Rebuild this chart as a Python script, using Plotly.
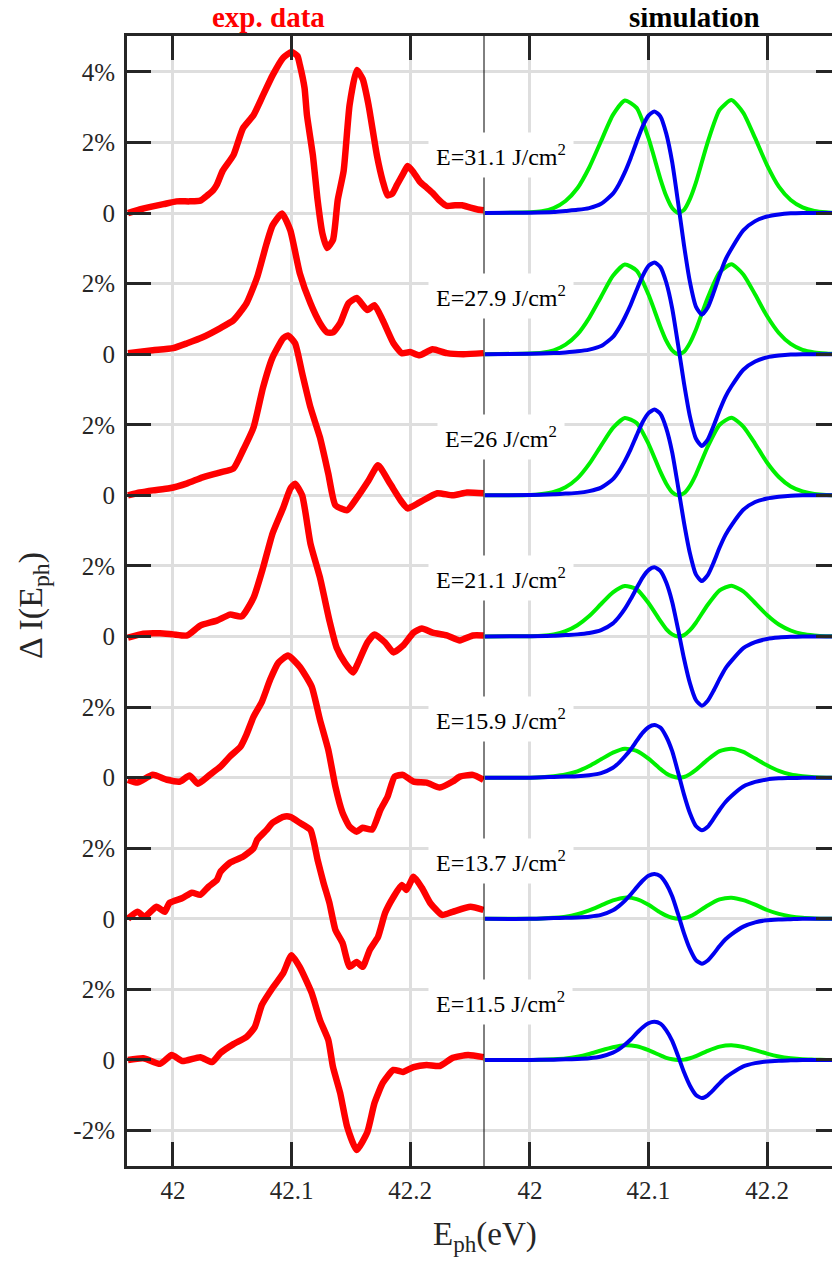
import plotly.graph_objects as go

# ---------------- data ----------------
FLUENCE = ["31.1", "27.9", "26", "21.1", "15.9", "13.7", "11.5"]

# experimental traces: (photon energy eV, dI %)
EXP_311 = [(41.962, 0.0), (41.972, 0.1), (41.982, 0.18), (41.992, 0.25), (42.003, 0.33), (42.014, 0.33),
           (42.023, 0.35), (42.029, 0.5), (42.034, 0.65), (42.037, 0.8), (42.042, 1.2), (42.051, 1.64),
           (42.059, 2.4), (42.068, 2.78), (42.076, 3.34), (42.084, 3.9), (42.093, 4.4), (42.100, 4.56),
           (42.105, 4.45), (42.107, 4.2), (42.111, 3.54), (42.113, 2.78), (42.118, 1.64), (42.122, 0.37),
           (42.126, -0.57), (42.130, -0.99), (42.135, -0.76), (42.139, 0.37), (42.144, 1.2), (42.149, 3.06),
           (42.155, 4.05), (42.160, 3.8), (42.165, 3.06), (42.172, 1.64), (42.177, 0.9), (42.181, 0.5),
           (42.185, 0.55), (42.189, 0.8), (42.194, 1.1), (42.198, 1.33), (42.203, 1.15), (42.208, 0.9),
           (42.214, 0.72), (42.219, 0.57), (42.225, 0.35), (42.231, 0.2), (42.238, 0.22), (42.244, 0.22),
           (42.251, 0.15), (42.257, 0.1), (42.262, 0.08)]
EXP_279 = [(41.962, 0.03), (41.983, 0.11), (42.000, 0.17), (42.012, 0.31), (42.025, 0.48), (42.040, 0.74),
           (42.051, 0.96), (42.062, 1.44), (42.071, 2.18), (42.079, 3.14), (42.084, 3.65), (42.092, 3.99),
           (42.099, 3.51), (42.107, 2.29), (42.116, 1.44), (42.124, 0.88), (42.130, 0.62), (42.135, 0.62),
           (42.141, 0.88), (42.148, 1.44), (42.155, 1.59), (42.164, 1.25), (42.170, 1.39), (42.177, 0.96),
           (42.186, 0.31), (42.193, 0.03), (42.200, 0.06), (42.208, -0.03), (42.219, 0.14), (42.231, 0.03),
           (42.245, 0.0), (42.262, 0.03)]
EXP_260 = [(41.962, 0.0), (41.972, 0.08), (41.983, 0.14), (41.997, 0.2), (42.012, 0.34), (42.025, 0.51),
           (42.040, 0.65), (42.051, 0.76), (42.059, 1.27), (42.068, 1.93), (42.076, 3.06), (42.084, 3.91),
           (42.093, 4.45), (42.097, 4.53), (42.103, 4.31), (42.109, 3.46), (42.116, 2.49), (42.124, 1.64),
           (42.131, 0.62), (42.137, -0.28), (42.147, -0.42), (42.155, -0.08), (42.165, 0.42), (42.173, 0.85),
           (42.183, 0.34), (42.192, -0.14), (42.198, -0.37), (42.208, -0.2), (42.223, 0.06), (42.236, 0.0),
           (42.248, 0.08), (42.262, 0.06)]
EXP_211 = [(41.962, -0.03), (41.975, 0.08), (41.989, 0.09), (42.000, 0.06), (42.012, 0.03), (42.023, 0.31),
           (42.037, 0.45), (42.048, 0.62), (42.058, 0.57), (42.068, 1.1), (42.076, 1.95), (42.084, 2.92),
           (42.093, 3.65), (42.099, 4.19), (42.103, 4.33), (42.109, 4.0), (42.116, 2.63), (42.124, 1.67),
           (42.132, 0.45), (42.138, -0.31), (42.145, -0.74), (42.152, -1.02), (42.156, -0.76), (42.164, -0.17),
           (42.170, 0.06), (42.179, -0.17), (42.186, -0.45), (42.194, -0.26), (42.203, 0.11), (42.210, 0.23),
           (42.219, 0.11), (42.231, 0.03), (42.242, -0.11), (42.253, 0.03), (42.262, 0.03)]
EXP_159 = [(41.962, -0.06), (41.970, -0.14), (41.983, 0.08), (41.995, -0.06), (42.006, -0.11), (42.014, 0.06),
           (42.021, -0.17), (42.031, 0.08), (42.040, 0.31), (42.048, 0.6), (42.057, 0.88), (42.062, 1.22),
           (42.068, 1.73), (42.075, 2.15), (42.082, 2.78), (42.089, 3.26), (42.097, 3.46), (42.107, 3.14),
           (42.117, 2.58), (42.124, 1.64), (42.131, 0.79), (42.137, -0.25), (42.143, -0.99), (42.149, -1.39),
           (42.155, -1.53), (42.160, -1.42), (42.168, -1.47), (42.175, -0.91), (42.181, -0.54), (42.187, 0.03),
           (42.194, 0.08), (42.203, -0.11), (42.214, -0.14), (42.225, -0.28), (42.236, -0.11), (42.242, 0.03),
           (42.253, 0.08), (42.262, -0.06)]
EXP_137 = [(41.962, 0.0), (41.970, 0.2), (41.976, 0.06), (41.986, 0.34), (41.993, 0.2), (41.997, 0.45),
           (42.008, 0.59), (42.016, 0.74), (42.023, 0.68), (42.030, 0.91), (42.037, 1.1), (42.040, 1.33),
           (42.048, 1.59), (42.059, 1.76), (42.068, 2.0), (42.071, 2.24), (42.079, 2.52), (42.084, 2.72),
           (42.093, 2.89), (42.099, 2.89), (42.107, 2.72), (42.116, 2.52), (42.122, 1.67), (42.127, 1.02),
           (42.132, 0.45), (42.137, -0.31), (42.143, -0.68), (42.149, -1.36), (42.155, -1.22), (42.160, -1.36),
           (42.166, -0.88), (42.173, -0.51), (42.179, 0.17), (42.186, 0.62), (42.193, 0.96), (42.197, 0.82),
           (42.203, 1.19), (42.210, 0.88), (42.217, 0.45), (42.227, 0.11), (42.236, 0.2), (42.251, 0.34),
           (42.262, 0.25)]
EXP_115 = [(41.962, 0.0), (41.975, 0.05), (41.989, -0.11), (41.999, 0.14), (42.008, -0.03), (42.023, 0.08),
           (42.033, -0.06), (42.040, 0.2), (42.051, 0.45), (42.062, 0.65), (42.069, 0.93), (42.075, 1.56),
           (42.084, 2.04), (42.093, 2.46), (42.100, 2.97), (42.107, 2.63), (42.117, 1.9), (42.124, 1.13),
           (42.131, 0.57), (42.135, -0.2), (42.141, -0.93), (42.147, -1.9), (42.155, -2.55), (42.164, -2.04),
           (42.170, -1.22), (42.177, -0.65), (42.186, -0.28), (42.194, -0.34), (42.203, -0.2), (42.214, -0.14),
           (42.225, -0.17), (42.236, 0.06), (42.249, 0.14), (42.262, 0.08)]

# simulation (green): energy grid and values (%)
GREEN_E = [41.962, 42.00, 42.01, 42.02, 42.03, 42.04, 42.05, 42.06, 42.07, 42.08, 42.09, 42.10, 42.11, 42.115,
           42.12, 42.125, 42.13, 42.135, 42.14, 42.15, 42.16, 42.17, 42.18, 42.19, 42.20, 42.21, 42.22, 42.23,
           42.24, 42.25, 42.262]
GREEN_311 = [0, 0.02, 0.05, 0.14, 0.34, 0.70, 1.29, 2.04, 2.78, 3.19, 2.98, 2.12, 0.97, 0.48, 0.14, 0, 0.09,
             0.40, 0.86, 2.01, 2.92, 3.20, 2.84, 2.12, 1.36, 0.75, 0.37, 0.16, 0.06, 0.02, 0]
GREEN_279 = [0, 0.02, 0.04, 0.11, 0.27, 0.56, 1.03, 1.63, 2.22, 2.54, 2.37, 1.69, 0.78, 0.38, 0.11, 0, 0.07,
             0.32, 0.69, 1.60, 2.32, 2.55, 2.26, 1.69, 1.08, 0.60, 0.29, 0.12, 0.05, 0.02, 0]
GREEN_260 = [0, 0.01, 0.04, 0.10, 0.23, 0.48, 0.89, 1.41, 1.91, 2.19, 2.05, 1.46, 0.67, 0.33, 0.09, 0, 0.06,
             0.27, 0.59, 1.38, 2.00, 2.20, 1.95, 1.46, 0.93, 0.52, 0.25, 0.11, 0.04, 0.01, 0]
GREEN_211 = [0, 0.01, 0.02, 0.06, 0.15, 0.32, 0.58, 0.92, 1.25, 1.43, 1.34, 0.95, 0.44, 0.21, 0.06, 0, 0.04,
             0.18, 0.39, 0.90, 1.31, 1.44, 1.28, 0.95, 0.61, 0.34, 0.17, 0.07, 0.03, 0.01, 0]
GREEN_159 = [0, 0.0, 0.01, 0.04, 0.09, 0.18, 0.33, 0.52, 0.71, 0.82, 0.76, 0.54, 0.25, 0.12, 0.04, 0, 0.02,
             0.10, 0.22, 0.51, 0.75, 0.82, 0.73, 0.54, 0.35, 0.19, 0.09, 0.04, 0.01, 0.0, 0]
GREEN_137 = [0, 0.0, 0.01, 0.03, 0.06, 0.13, 0.24, 0.38, 0.52, 0.60, 0.56, 0.40, 0.18, 0.09, 0.03, 0, 0.02,
             0.07, 0.16, 0.38, 0.55, 0.60, 0.53, 0.40, 0.25, 0.14, 0.07, 0.03, 0.01, 0.0, 0]
GREEN_115 = [0, 0.0, 0.01, 0.02, 0.04, 0.09, 0.17, 0.27, 0.36, 0.42, 0.39, 0.28, 0.13, 0.06, 0.02, 0, 0.01,
             0.05, 0.11, 0.26, 0.38, 0.42, 0.37, 0.28, 0.18, 0.10, 0.05, 0.02, 0.01, 0.0, 0]

# simulation (blue): energy grid and values (%)
BLUE_E = [41.962, 42.00, 42.02, 42.03, 42.04, 42.05, 42.06, 42.07, 42.075, 42.08, 42.085, 42.09, 42.095, 42.10,
          42.105, 42.11, 42.115, 42.12, 42.125, 42.13, 42.135, 42.14, 42.145, 42.15, 42.155, 42.16, 42.165,
          42.17, 42.18, 42.19, 42.20, 42.21, 42.22, 42.23, 42.262]
BLUE_311 = [0, 0.01, 0.03, 0.06, 0.09, 0.14, 0.26, 0.55, 0.81, 1.15, 1.56, 2.02, 2.45, 2.76, 2.88, 2.74, 2.25,
            1.44, 0.29, -0.92, -1.96, -2.65, -2.88, -2.68, -2.25, -1.76, -1.32, -1.01, -0.49, -0.23, -0.10,
            -0.04, -0.01, 0, 0]
BLUE_279 = [0, 0.01, 0.03, 0.05, 0.08, 0.13, 0.23, 0.49, 0.73, 1.04, 1.40, 1.82, 2.21, 2.50, 2.60, 2.47, 2.03,
            1.30, 0.26, -0.83, -1.77, -2.39, -2.60, -2.42, -2.03, -1.59, -1.20, -0.91, -0.44, -0.21, -0.09,
            -0.04, -0.01, 0, 0]
BLUE_260 = [0, 0.01, 0.03, 0.05, 0.07, 0.12, 0.22, 0.46, 0.68, 0.97, 1.31, 1.70, 2.07, 2.33, 2.43, 2.31, 1.90,
            1.22, 0.24, -0.78, -1.65, -2.24, -2.43, -2.26, -1.90, -1.48, -1.12, -0.85, -0.41, -0.19, -0.09,
            -0.04, -0.01, 0, 0]
BLUE_211 = [0, 0.01, 0.02, 0.04, 0.06, 0.10, 0.18, 0.37, 0.55, 0.78, 1.06, 1.37, 1.67, 1.88, 1.96, 1.86, 1.53,
            0.98, 0.20, -0.63, -1.33, -1.80, -1.96, -1.82, -1.53, -1.20, -0.90, -0.69, -0.33, -0.16, -0.07,
            -0.03, -0.01, 0, 0]
BLUE_159 = [0, 0.0, 0.02, 0.03, 0.04, 0.07, 0.13, 0.28, 0.42, 0.60, 0.80, 1.04, 1.27, 1.43, 1.49, 1.42, 1.16,
            0.75, 0.15, -0.48, -1.01, -1.37, -1.49, -1.39, -1.16, -0.91, -0.69, -0.52, -0.25, -0.12, -0.05,
            -0.02, -0.01, 0, 0]
BLUE_137 = [0, 0.0, 0.02, 0.03, 0.04, 0.06, 0.11, 0.24, 0.36, 0.51, 0.69, 0.89, 1.08, 1.22, 1.27, 1.21, 0.99,
            0.64, 0.13, -0.41, -0.86, -1.17, -1.27, -1.18, -0.99, -0.77, -0.58, -0.44, -0.22, -0.10, -0.04,
            -0.02, -0.01, 0, 0]
BLUE_115 = [0, 0.0, 0.01, 0.02, 0.03, 0.05, 0.10, 0.21, 0.30, 0.43, 0.58, 0.76, 0.92, 1.04, 1.08, 1.03, 0.84,
            0.54, 0.11, -0.35, -0.73, -0.99, -1.08, -1.00, -0.84, -0.66, -0.50, -0.38, -0.18, -0.09, -0.04,
            -0.02, -0.01, 0, 0]

Y_TICKVALS = [-2, 0, 2, 4, 6, 8, 10, 12, 14, 16, 18, 20, 22, 24, 26, 28]
Y_TICKTEXT = ["-2%", "0", "2%", "0", "2%", "0", "2%", "0", "2%", "0", "2%", "0", "2%", "0", "2%", "4%"]
X_TICKVALS = [42.0, 42.1, 42.2]
X_TICKTEXT = ["42", "42.1", "42.2"]

EXP = [EXP_311, EXP_279, EXP_260, EXP_211, EXP_159, EXP_137, EXP_115]
GREEN = [GREEN_311, GREEN_279, GREEN_260, GREEN_211, GREEN_159, GREEN_137, GREEN_115]
BLUE = [BLUE_311, BLUE_279, BLUE_260, BLUE_211, BLUE_159, BLUE_137, BLUE_115]

# ---------------- figure ----------------
# the page body has an 8 px margin, so the figure is 8 px smaller than the window
W, H = 832, 1260
PAD = 8
STEP = 4.0
N = len(FLUENCE)
SERIF = "'Liberation Serif', 'Times New Roman', Times, serif"
DARK = "#262626"


def px(x):  # screen x -> paper fraction
    return (x - PAD) / W


def py(y):  # screen y -> paper fraction
    return 1 - (y - PAD) / H


fig = go.Figure()
for i, tr in enumerate(EXP):
    off = (N - 1 - i) * STEP
    fig.add_trace(go.Scatter(x=[p[0] for p in tr], y=[p[1] + off for p in tr], mode="lines",
                             line=dict(color="#ff0000", width=6.5, shape="spline", smoothing=0.5),
                             xaxis="x", yaxis="y", showlegend=False, hoverinfo="skip"))
for i, g in enumerate(GREEN):
    off = (N - 1 - i) * STEP
    fig.add_trace(go.Scatter(x=GREEN_E, y=[v + off for v in g], mode="lines",
                             line=dict(color="#00f000", width=4, shape="spline", smoothing=0.6),
                             xaxis="x2", yaxis="y2", showlegend=False, hoverinfo="skip"))
for i, b in enumerate(BLUE):
    off = (N - 1 - i) * STEP
    fig.add_trace(go.Scatter(x=BLUE_E, y=[v + off for v in b], mode="lines",
                             line=dict(color="#0000f0", width=4, shape="spline", smoothing=0.6),
                             xaxis="x2", yaxis="y2", showlegend=False, hoverinfo="skip"))

xl, xm = px(127), px(484)
yb, yt = py(1166), py(36)
YR = [-3.004, 29.016]

common = dict(showgrid=True, gridcolor="#dedede", gridwidth=3, ticks="inside", ticklen=24, tickwidth=3,
              tickcolor=DARK, linecolor=DARK, linewidth=3, zeroline=False,
              tickfont=dict(family=SERIF, size=25, color=DARK))

fig.update_layout(
    width=W, height=H, autosize=False,
    margin=dict(l=0, r=0, t=0, b=0),
    paper_bgcolor="white", plot_bgcolor="white",
    font=dict(family=SERIF, size=24, color=DARK),
    showlegend=False,
    xaxis=dict(domain=[xl, xm], range=[41.9612, 42.2624], tickvals=X_TICKVALS, ticktext=X_TICKTEXT,
               showline=True, mirror="ticks", anchor="y", **common),
    xaxis2=dict(domain=[xm, 1.0], range=[41.9612, 42.2616], tickvals=X_TICKVALS, ticktext=X_TICKTEXT,
                showline=True, mirror="ticks", anchor="y2", **common),
    yaxis=dict(domain=[yb, yt], range=YR, tickvals=Y_TICKVALS, ticktext=Y_TICKTEXT,
               showline=True, mirror=False, anchor="x", ticklabelstandoff=4, **common),
    yaxis2=dict(domain=[yb, yt], range=YR, tickvals=Y_TICKVALS, ticktext=Y_TICKTEXT,
                showline=False, side="right", anchor="x2", showticklabels=False, **common),
)

# thin separator between panels
fig.add_shape(type="line", xref="paper", yref="paper", x0=xm, x1=xm, y0=yb, y1=yt,
              line=dict(color="black", width=1), layer="above")

# fluence labels
for i, f in enumerate(FLUENCE):
    off = (N - 1 - i) * STEP
    fig.add_annotation(xref="paper", yref="y", x=px(501), y=off + 1.65,
                       text=f"E={f} J/cm<sup>2</sup>", showarrow=False,
                       font=dict(family=SERIF, size=24, color="black"),
                       bgcolor="white", borderpad=7, xanchor="center", yanchor="middle")

# panel titles (sit just above the top frame line)
fig.add_annotation(xref="paper", yref="paper", x=px(268), y=py(34), text="<b>exp. data</b>",
                   showarrow=False, font=dict(family=SERIF, size=29, color="#ff0000"),
                   xanchor="center", yanchor="bottom", borderpad=0)
fig.add_annotation(xref="paper", yref="paper", x=px(694), y=py(34), text="<b>simulation</b>",
                   showarrow=False, font=dict(family=SERIF, size=29, color="black"),
                   xanchor="center", yanchor="bottom", borderpad=0)

# axis titles
fig.add_annotation(xref="paper", yref="paper", x=px(33), y=py(606), text="\u0394 I(E<sub>ph</sub>)",
                   showarrow=False, textangle=-90, font=dict(family=SERIF, size=34, color=DARK),
                   xanchor="center", yanchor="middle")
fig.add_annotation(xref="paper", yref="paper", x=px(485), y=py(1236), text="E<sub>ph</sub>(eV)",
                   showarrow=False, font=dict(family=SERIF, size=33, color=DARK),
                   xanchor="center", yanchor="middle")

fig.write_html("out.html")
